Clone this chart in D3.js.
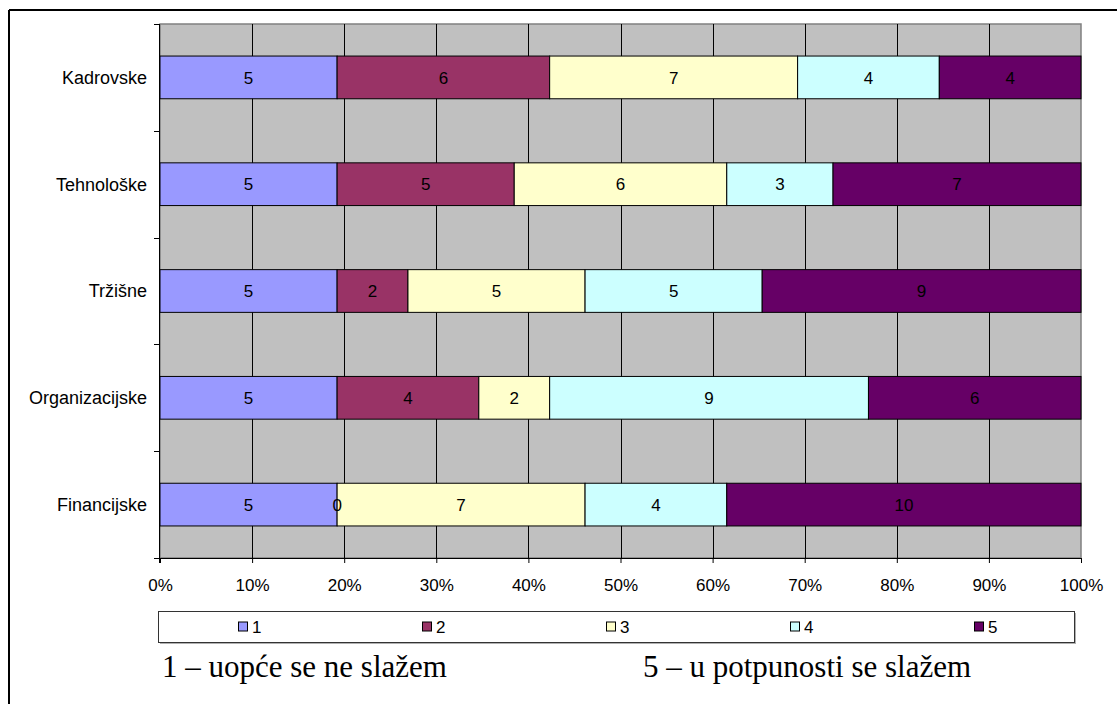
<!DOCTYPE html>
<html>
<head>
<meta charset="utf-8">
<script src="https://cdn.jsdelivr.net/npm/d3@7"></script>
<style>
  html, body { margin: 0; padding: 0; background: #fff; }
  svg { display: block; }
</style>
</head>
<body>
<svg id="chart" width="1117" height="704"></svg>
<script>
// Survey answers per area (counts for ratings 1..5)
const categories = ["Kadrovske", "Tehnološke", "Tržišne", "Organizacijske", "Financijske"];
const seriesNames = ["1", "2", "3", "4", "5"];
const seriesColors = ["#9999FF", "#993366", "#FFFFCC", "#CCFFFF", "#660066"];
const rating1 = [5, 5, 5, 5, 5];
const rating2 = [6, 5, 2, 4, 0];
const rating3 = [7, 6, 5, 2, 7];
const rating4 = [4, 3, 5, 9, 4];
const rating5 = [4, 7, 9, 6, 10];
const xTicks = [0, 0.1, 0.2, 0.3, 0.4, 0.5, 0.6, 0.7, 0.8, 0.9, 1.0];
const noteLeft = "1 – uopće se ne slažem";
const noteRight = "5 – u potpunosti se slažem";

const seriesValues = [rating1, rating2, rating3, rating4, rating5];
const sansFont = "Liberation Sans, Arial, sans-serif";
const serifFont = "Liberation Serif, Times New Roman, serif";

const svg = d3.select("#chart");
const plot = { left: 160, right: 1081, top: 24, bottom: 558 };

// outer frame lines (top and left)
svg.append("line").attr("x1", 9).attr("x2", 1117).attr("y1", 10).attr("y2", 10)
  .attr("stroke", "#000").attr("stroke-width", 2);
svg.append("line").attr("x1", 9).attr("x2", 9).attr("y1", 10).attr("y2", 704)
  .attr("stroke", "#000").attr("stroke-width", 2);

const x = d3.scaleLinear().domain([0, 1]).range([plot.left, plot.right]);
const y = d3.scaleBand().domain(categories).range([plot.top, plot.bottom])
  .paddingInner(0.6).paddingOuter(0.3);
const yBounds = d3.scaleLinear().domain([0, categories.length]).range([plot.top, plot.bottom]);

// plot background
svg.append("rect")
  .attr("x", plot.left).attr("y", plot.top)
  .attr("width", plot.right - plot.left).attr("height", plot.bottom - plot.top)
  .attr("fill", "#C0C0C0").attr("stroke", "#808080").attr("stroke-width", 1.5);

// vertical gridlines
svg.append("g").selectAll("line").data(xTicks.slice(1, -1)).join("line")
  .attr("x1", d => Math.round(x(d)) + 0.5).attr("x2", d => Math.round(x(d)) + 0.5)
  .attr("y1", plot.top).attr("y2", plot.bottom)
  .attr("stroke", "#000").attr("stroke-width", 1);

// stacked data (share of row total)
const rows = categories.map((c, i) => {
  const vals = seriesValues.map(s => s[i]);
  const total = d3.sum(vals);
  let acc = 0;
  return vals.map((v, k) => {
    const seg = { cat: c, k, v, x0: acc / total, x1: (acc + v) / total };
    acc += v;
    return seg;
  });
});
const segments = rows.flat();

svg.append("g").selectAll("rect").data(segments.filter(d => d.v > 0)).join("rect")
  .attr("x", d => x(d.x0)).attr("width", d => x(d.x1) - x(d.x0))
  .attr("y", d => y(d.cat)).attr("height", y.bandwidth())
  .attr("fill", d => seriesColors[d.k])
  .attr("stroke", "#000").attr("stroke-width", 1);

svg.append("g").selectAll("text").data(segments).join("text")
  .attr("x", d => (x(d.x0) + x(d.x1)) / 2)
  .attr("y", d => y(d.cat) + y.bandwidth() / 2)
  .attr("dy", "0.36em")
  .attr("text-anchor", "middle")
  .attr("font-family", sansFont)
  .attr("font-size", 17)
  .attr("fill", "#000")
  .text(d => d.v);

// x axis
const xAxis = d3.axisBottom(x).tickValues(xTicks).tickFormat(d3.format(".0%"))
  .tickSize(5).tickSizeOuter(0);
const gx = svg.append("g").attr("transform", `translate(0,${plot.bottom})`).call(xAxis);
gx.select(".domain").attr("stroke", "#000");
gx.selectAll(".tick line").attr("stroke", "#000");
gx.selectAll(".tick text")
  .attr("font-family", sansFont)
  .attr("font-size", 17).attr("fill", "#000")
  .attr("y", 33).attr("dy", 0);

// y axis line with boundary ticks
svg.append("line").attr("x1", plot.left - 0.5).attr("x2", plot.left - 0.5)
  .attr("y1", plot.top).attr("y2", plot.bottom + 5).attr("stroke", "#000");
svg.append("g").selectAll("line").data(d3.range(categories.length + 1)).join("line")
  .attr("x1", plot.left - 6).attr("x2", plot.left)
  .attr("y1", d => Math.round(yBounds(d)) + 0.5).attr("y2", d => Math.round(yBounds(d)) + 0.5)
  .attr("stroke", "#000");

svg.append("g").selectAll("text").data(categories).join("text")
  .attr("x", 147).attr("y", d => y(d) + y.bandwidth() / 2).attr("dy", "0.36em")
  .attr("text-anchor", "end")
  .attr("font-family", sansFont)
  .attr("font-size", 18).attr("fill", "#000")
  .text(d => d);

// legend
const legend = { left: 158, right: 1074, top: 611, bottom: 642 };
svg.append("rect")
  .attr("x", legend.left + 2).attr("y", legend.top + 2)
  .attr("width", legend.right - legend.left).attr("height", legend.bottom - legend.top)
  .attr("fill", "#b0b0b0");
svg.append("rect")
  .attr("x", legend.left + 0.5).attr("y", legend.top + 0.5)
  .attr("width", legend.right - legend.left).attr("height", legend.bottom - legend.top)
  .attr("fill", "#fff").attr("stroke", "#333").attr("stroke-width", 1);
const legendX = d3.scalePoint().domain(seriesNames).range([238, 974]);
const li = svg.append("g").selectAll("g").data(seriesNames).join("g")
  .attr("transform", d => `translate(${legendX(d)},${(legend.top + legend.bottom) / 2})`);
li.append("rect").attr("x", 0.5).attr("y", -4.5).attr("width", 9).attr("height", 9)
  .attr("fill", (d, i) => seriesColors[i]).attr("stroke", "#000");
li.append("text").attr("x", 14).attr("dy", "0.36em")
  .attr("font-family", sansFont)
  .attr("font-size", 17).attr("fill", "#000").text(d => d);

// scale notes
svg.append("text").attr("x", 162).attr("y", 677)
  .attr("font-family", serifFont)
  .attr("font-size", 31).attr("fill", "#000").text(noteLeft);
svg.append("text").attr("x", 643).attr("y", 677)
  .attr("font-family", serifFont)
  .attr("font-size", 31).attr("fill", "#000").text(noteRight);
</script>
</body>
</html>
